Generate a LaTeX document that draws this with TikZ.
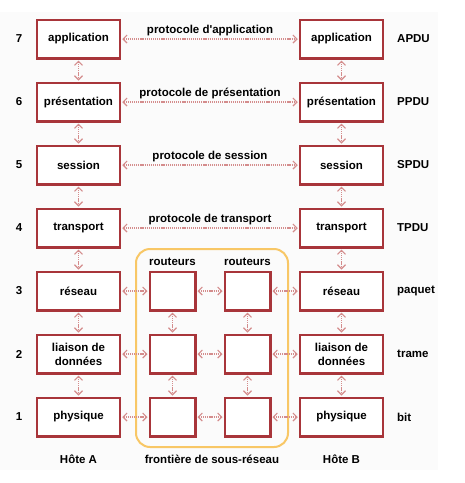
\documentclass[tikz,border=0pt]{standalone}
\usepackage{fontspec}
\setmainfont{Liberation Sans}
\usetikzlibrary{arrows.meta}
\definecolor{boxred}{HTML}{A8353A}
\definecolor{arrred}{HTML}{D48C8C}
\definecolor{framey}{HTML}{F8C766}
\definecolor{bg}{HTML}{FBFBFB}
\begin{document}
\begin{tikzpicture}[x=1pt,y=-1pt,
  every node/.style={font=\fontsize{11.5}{14}\selectfont\bfseries, text=black},
  layer/.style={draw=boxred, line width=2.5pt, fill=white, minimum width=83pt, minimum height=38.5pt, inner sep=0pt, align=center},
  router/.style={layer, minimum width=45.5pt},
  link/.style={draw=arrred, line width=1.4pt, dash pattern=on 1.2pt off 0.9pt, {Straight Barb[length=4pt,width=8pt,line width=1.1pt]}-{Straight Barb[length=4pt,width=8pt,line width=1.1pt]}, shorten <=1pt, shorten >=1pt},
  lbl/.style={inner sep=1pt}
]
\useasboundingbox (0,0) rectangle (465,483);
\fill[bg] (0,12) rectangle (438,470);
% frame
\draw[framey, line width=2pt, rounded corners=14pt] (136,249) rectangle (288,447);
% host A
\node[layer] (a7) at (78.5,39) {application};
\node[layer] (a6) at (78.5,102) {présentation};
\node[layer] (a5) at (78.5,165) {session};
\node[layer] (a4) at (78.5,228) {transport};
\node[layer] (a3) at (78.5,291) {réseau};
\node[layer] (a2) at (78.5,354) {liaison de\\données};
\node[layer] (a1) at (78.5,417) {physique};
% host B
\node[layer] (b7) at (341.5,39) {application};
\node[layer] (b6) at (341.5,102) {présentation};
\node[layer] (b5) at (341.5,165) {session};
\node[layer] (b4) at (341.5,228) {transport};
\node[layer] (b3) at (341.5,291) {réseau};
\node[layer] (b2) at (341.5,354) {liaison de\\données};
\node[layer] (b1) at (341.5,417) {physique};
% routers
\node[router] (r13) at (172.5,291) {};
\node[router] (r12) at (172.5,354) {};
\node[router] (r11) at (172.5,417) {};
\node[router] (r23) at (247.5,291) {};
\node[router] (r22) at (247.5,354) {};
\node[router] (r21) at (247.5,417) {};
% layer numbers
\foreach \n/\y in {7/39,6/102,5/165,4/228,3/291,2/354,1/417}
  \node[lbl] (num\n) at (19,\y) {\n};
% PDU labels
\node[lbl, anchor=west] (p7) at (396,39) {APDU};
\node[lbl, anchor=west] (p6) at (396,102) {PPDU};
\node[lbl, anchor=west] (p5) at (396,165) {SPDU};
\node[lbl, anchor=west] (p4) at (396,228) {TPDU};
\node[lbl, anchor=west] (p3) at (396,291) {paquet};
\node[lbl, anchor=west] (p2) at (396,354) {trame};
\node[lbl, anchor=west] (p1) at (396,417) {bit};
% vertical links
\foreach \s/\t in {7/6,6/5,5/4,4/3,3/2,2/1}{
  \draw[link] (a\s.south) -- (a\t.north);
  \draw[link] (b\s.south) -- (b\t.north);
}
\draw[link] (r13.south) -- (r12.north);
\draw[link] (r12.south) -- (r11.north);
\draw[link] (r23.south) -- (r22.north);
\draw[link] (r22.south) -- (r21.north);
% peer protocols
\draw[link] (a7.east) -- node[above, inner sep=2pt] {protocole d\textquotesingle application} (b7.west);
\draw[link] (a6.east) -- node[above, inner sep=2pt] {protocole de présentation} (b6.west);
\draw[link] (a5.east) -- node[above, inner sep=2pt] {protocole de session} (b5.west);
\draw[link] (a4.east) -- node[above, inner sep=2pt] {protocole de transport} (b4.west);
% lower layers through routers
\foreach \k in {3,2,1}{
  \draw[link] (a\k.east) -- (r1\k.west);
  \draw[link] (r1\k.east) -- (r2\k.west);
  \draw[link] (r2\k.east) -- (b\k.west);
}
% captions
\node[lbl] (rt1) at (172.5,262) {routeurs};
\node[lbl] (rt2) at (247.5,262) {routeurs};
\node[lbl] (ha) at (78.5,459) {Hôte A};
\node[lbl] (hb) at (341.5,459) {Hôte B};
\node[lbl] (fr) at (212,459) {frontière de sous-réseau};
\end{tikzpicture}
\end{document}
